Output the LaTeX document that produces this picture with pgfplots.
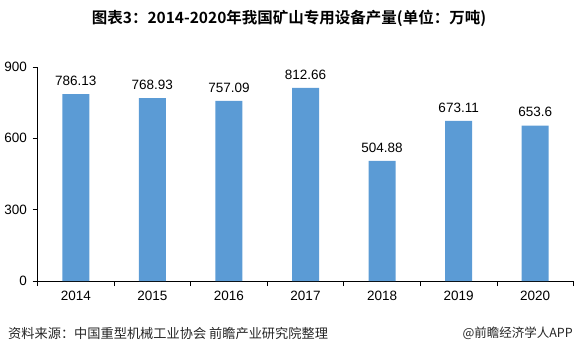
\documentclass[border=0pt]{standalone}
\usepackage{pgfplots}
\pgfplotsset{compat=1.18}
\usepackage{fontspec}
\setmainfont{Liberation Sans}
\newfontfamily\cjk{Noto Sans CJK SC}
\newfontfamily\cjkb{Noto Sans CJK SC Bold}
\definecolor{barblue}{HTML}{5B9BD5}
\begin{document}
\begin{tikzpicture}
\useasboundingbox (0,0) rectangle (577pt,357pt);
\begin{axis}[
  at={(37.5pt,76pt)}, anchor=south west,
  scale only axis, width=536pt, height=214pt,
  xmin=-0.5, xmax=6.5, ymin=0, ymax=900,
  axis x line*=bottom, axis y line*=left,
  axis line style={black, line width=0.8pt},
  ytick={0,300,600,900},
  xtick={0,...,6},
  xticklabels={2014,2015,2016,2017,2018,2019,2020},
  minor xtick={-0.5,0.5,...,6.5},
  major x tick style={draw=none},
  minor tick length=5pt, major tick length=5pt,
  tick align=outside,
  tick style={black, line width=0.8pt},
  /pgf/number format/assume math mode=true,
  ticklabel style={font=\fontsize{13.5}{15}\selectfont},
  yticklabel style={xshift=-2pt},
  xticklabel style={yshift=-2pt},
  ybar, bar width=27pt,
  nodes near coords,
  nodes near coords style={font=\fontsize{13.5}{15}\selectfont, yshift=5pt, black},
  point meta=explicit symbolic,
]
\addplot[fill=barblue, draw=none] coordinates {
  (0,786.13) [786.13]
  (1,768.93) [768.93]
  (2,757.09) [757.09]
  (3,812.66) [812.66]
  (4,504.88) [504.88]
  (5,673.11) [673.11]
  (6,653.6) [653.6]
};
\end{axis}
\node[anchor=center, font=\cjkb\fontsize{15.5}{17}\selectfont] at (289pt,339pt) {图表3：2014-2020年我国矿山专用设备产量(单位：万吨)};
\node[anchor=west, inner sep=0pt, font=\cjk\fontsize{13.2}{15}\selectfont, text=black!85] at (8pt,24pt) {资料来源：中国重型机械工业协会 前瞻产业研究院整理};
\node[anchor=east, inner sep=0pt, font=\cjk\fontsize{12.5}{14}\selectfont, text=black!85] at (573pt,24pt) {@前瞻经济学人APP};
\end{tikzpicture}
\end{document}
